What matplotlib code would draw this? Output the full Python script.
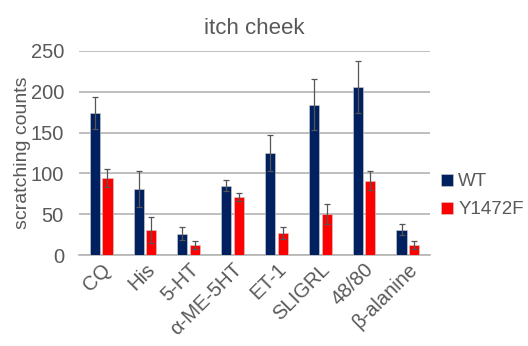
import matplotlib.pyplot as plt
import numpy as np

plt.rcParams['font.family'] = ['Liberation Sans', 'DejaVu Sans']

categories = ['CQ', 'His', '5-HT', 'α-ME-5HT', 'ET-1', 'SLIGRL', '48/80', 'β-alanine']
wt = [174, 81, 26, 85, 125, 184, 206, 31]
wt_err = [20, 22, 8, 7, 22, 31, 32, 7]
mut = [94, 31, 12, 71, 27, 50, 91, 12]
mut_err = [11, 16, 5, 5, 7, 12, 12, 5]

gray = '#595959'
fig = plt.figure(figsize=(5.28, 3.46), dpi=100)
ax = fig.add_axes([0.15, 0.263, 0.664, 0.59])

x = np.arange(len(categories))
w = 0.23
ekw = dict(ecolor='#555555', elinewidth=0.9, capsize=2, capthick=0.9)
ax.bar(x - 0.145, wt, w, yerr=wt_err, color='#002060', edgecolor='#d0d0d0',
       linewidth=0.4, label='WT', error_kw=ekw, zorder=3)
ax.bar(x + 0.145, mut, w, yerr=mut_err, color='#ff0000', edgecolor='#d0d0d0',
       linewidth=0.4, label='Y1472F', error_kw=ekw, zorder=3)

ax.set_ylim(0, 250)
ax.set_yticks([0, 50, 100, 150, 200, 250])
ax.set_xlim(-0.5, len(categories) - 0.5)
ax.grid(axis='y', color='#b4b4b4', linewidth=1.2, zorder=0)
for s in ['top', 'right', 'left']:
    ax.spines[s].set_visible(False)
ax.spines['bottom'].set_color('#b4b4b4')
ax.spines['bottom'].set_linewidth(1.2)
ax.tick_params(axis='both', length=0, colors=gray, labelsize=14.5)
ax.tick_params(axis='y', pad=11)
ax.set_xticks(x)
ax.set_xticklabels(categories, rotation=45, ha='right', rotation_mode='anchor')
ax.set_ylabel('scratching counts', color=gray, fontsize=14, labelpad=0)
ax.set_title('itch cheek', color=gray, fontsize=16, pad=12)

ax.legend(loc='center left', bbox_to_anchor=(0.985, 0.29), frameon=False,
          fontsize=13.5, labelcolor=gray, handlelength=0.6, handleheight=0.6,
          handletextpad=0.3, labelspacing=0.6)

fig.savefig('out.png', dpi=100)
